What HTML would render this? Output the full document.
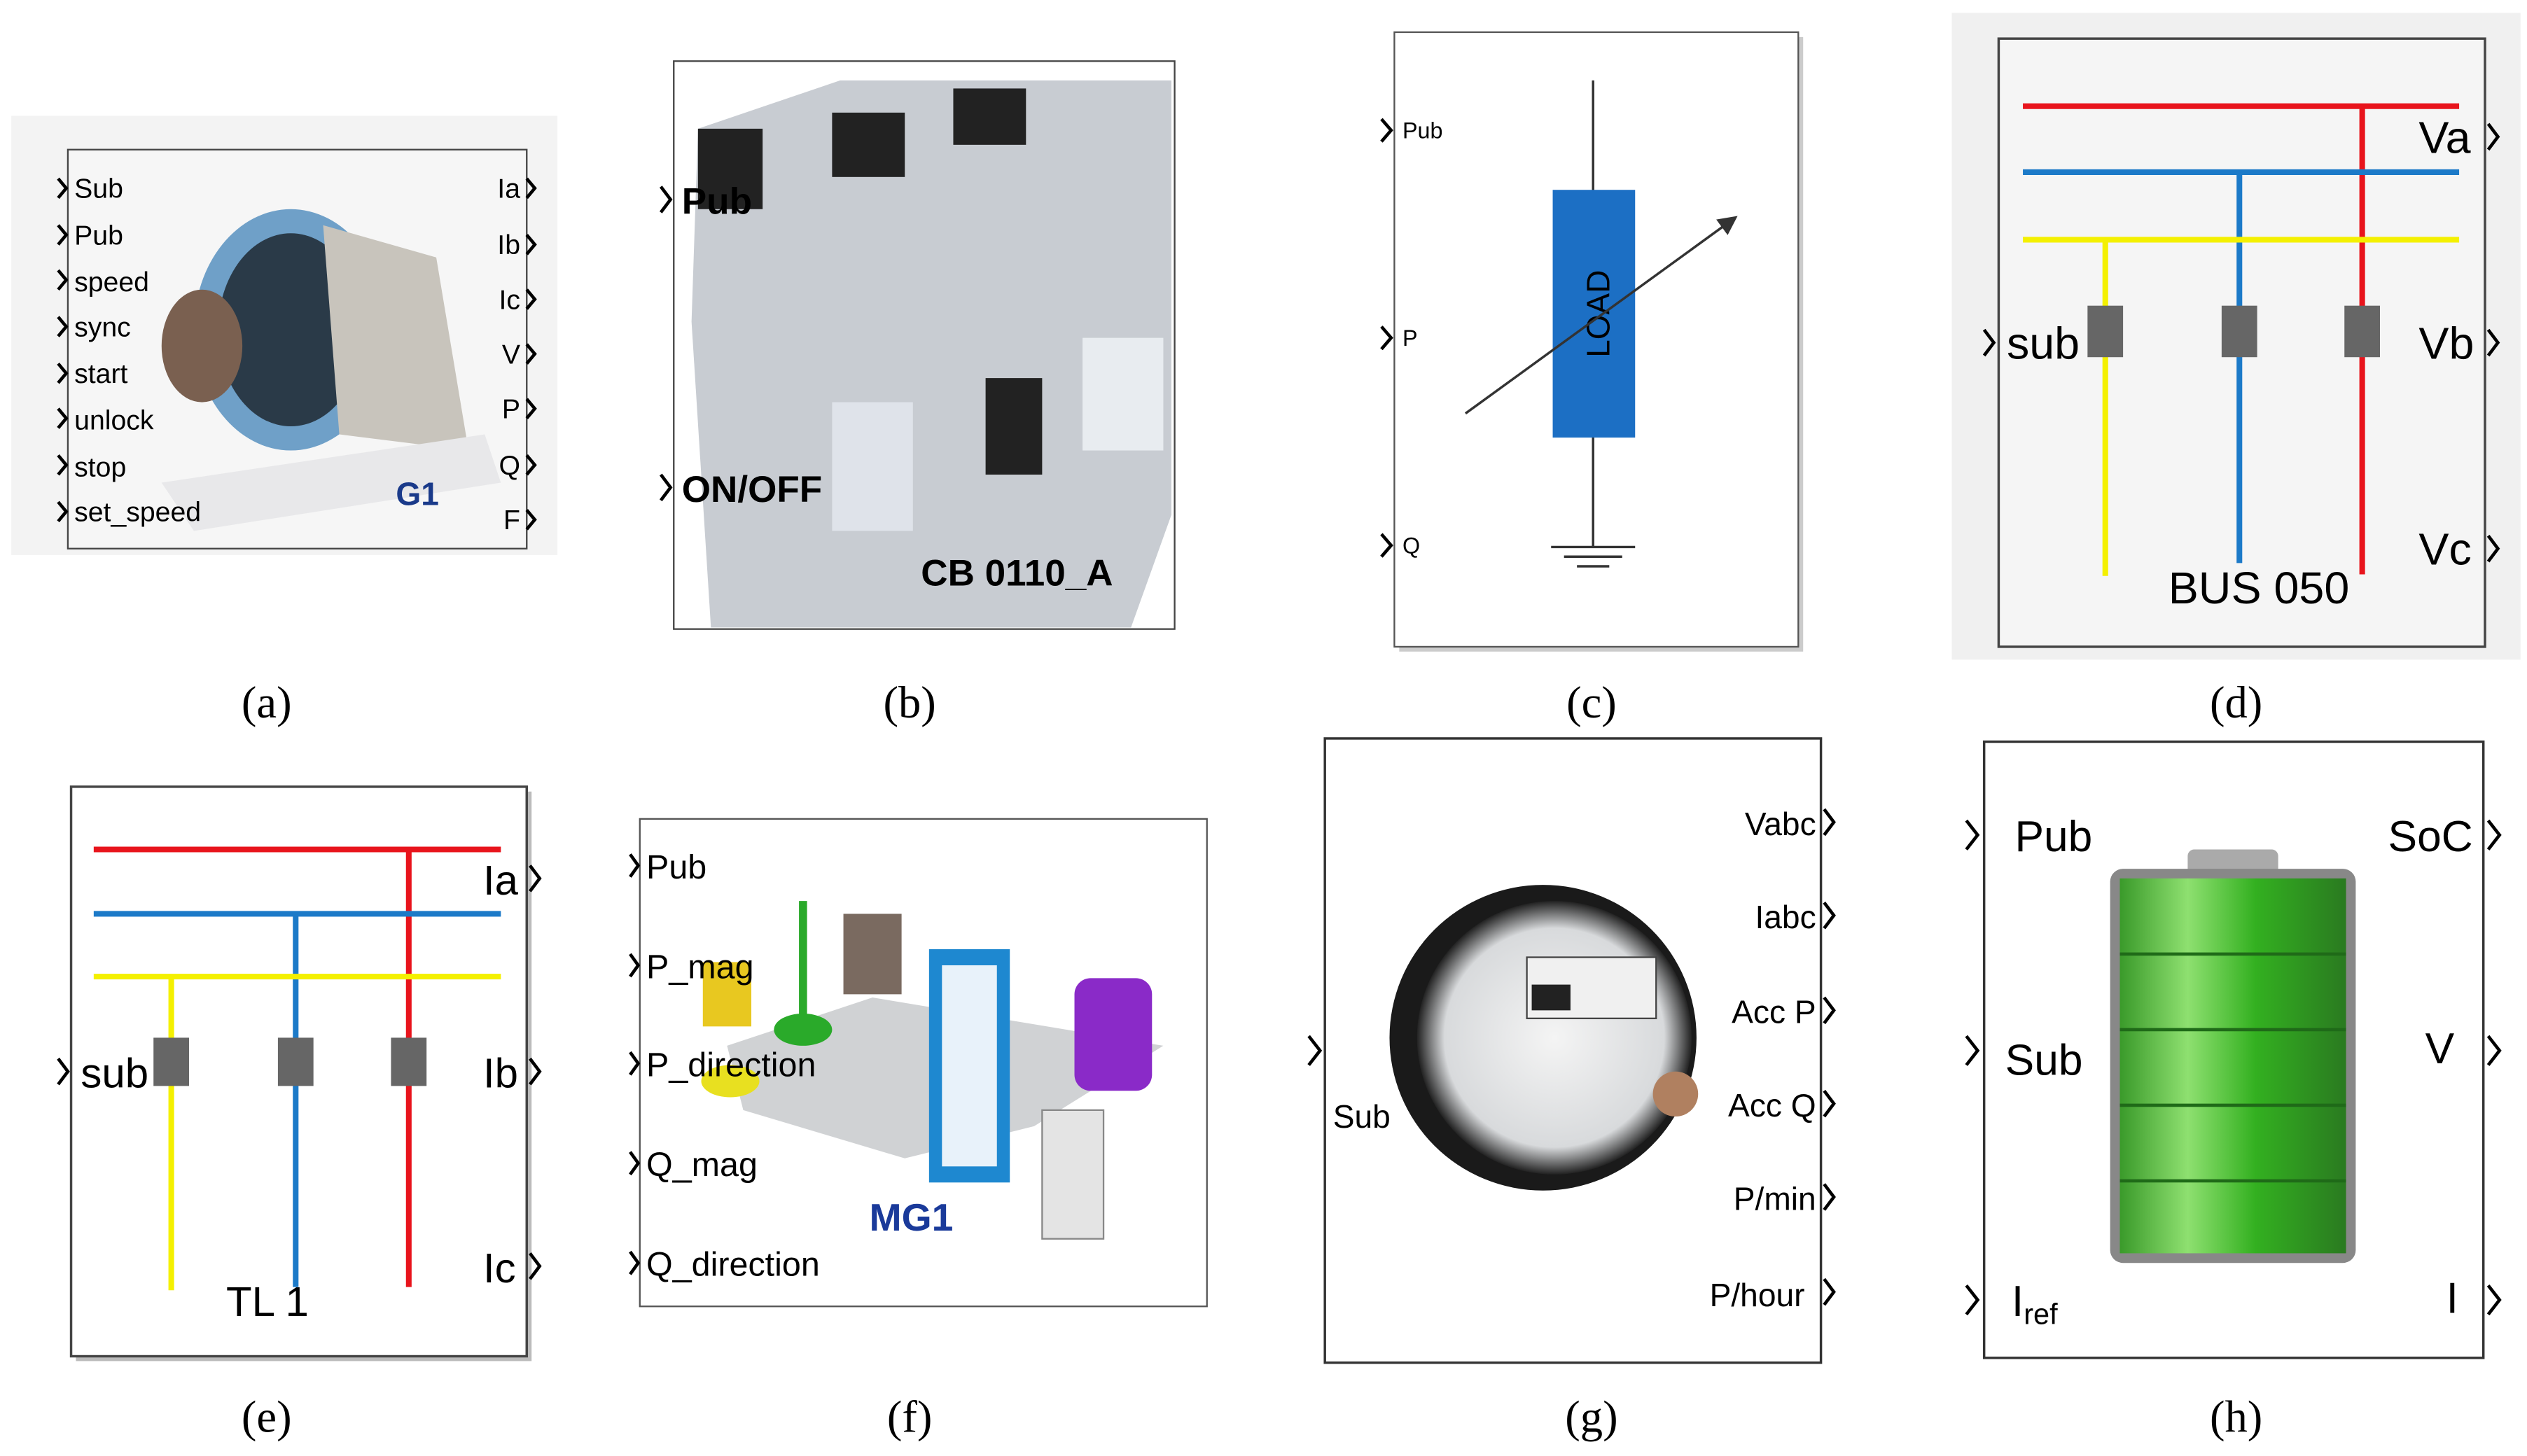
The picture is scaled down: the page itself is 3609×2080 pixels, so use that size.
<!DOCTYPE html>
<html><head><meta charset="utf-8"><style>
html,body{margin:0;padding:0;background:#fff;}
svg{display:block;}
text{font-family:"Liberation Sans",sans-serif;}
.cap{font-family:"Liberation Serif",serif;font-size:28px;text-anchor:middle;}
</style></head><body>
<svg width="3609" height="2080" viewBox="0 0 1564 905" preserveAspectRatio="none" xmlns="http://www.w3.org/2000/svg">
<defs>
<linearGradient id="gb" x1="0" x2="1"><stop offset="0" stop-color="#3a9a2a"/><stop offset="0.3" stop-color="#8ee070"/><stop offset="0.6" stop-color="#33b020"/><stop offset="1" stop-color="#2a7a20"/></linearGradient>
<radialGradient id="gm"><stop offset="0" stop-color="#f4f4f4"/><stop offset="0.8" stop-color="#d8dadc"/><stop offset="1" stop-color="#222"/></radialGradient>
<marker id="ah" markerWidth="8" markerHeight="8" refX="6" refY="4" orient="auto"><path d="M0,0 L8,4 L0,8 z" fill="#333"/></marker>
</defs>
<g fill="none" stroke="#000" stroke-width="2">
</g>
<!-- (a) -->
<rect x="7" y="72" width="338" height="273" fill="#f3f3f3"/>
<rect x="42" y="93" width="284" height="248" fill="#f6f6f6" stroke="#444" stroke-width="1"/>
<ellipse cx="180" cy="205" rx="60" ry="75" fill="#6fa0c8"/>
<ellipse cx="180" cy="205" rx="45" ry="60" fill="#2a3a48"/>
<path d="M200 140 L270 160 L290 280 L210 270 z" fill="#c8c4bc"/>
<ellipse cx="125" cy="215" rx="25" ry="35" fill="#7a6050"/>
<path d="M100 300 L300 270 L310 300 L120 330 z" fill="#e8e8ea"/>
<g font-size="17" fill="#000">
<text x="46" y="123">Sub</text><text x="46" y="152">Pub</text><text x="46" y="181">speed</text><text x="46" y="209">sync</text><text x="46" y="238">start</text><text x="46" y="267">unlock</text><text x="46" y="296">stop</text><text x="46" y="324">set_speed</text>
<g text-anchor="end"><text x="322" y="123">Ia</text><text x="322" y="158">Ib</text><text x="322" y="192">Ic</text><text x="322" y="226">V</text><text x="322" y="260">P</text><text x="322" y="295">Q</text><text x="322" y="329">F</text></g>
</g>
<text x="245" y="314" font-size="20" font-weight="bold" fill="#1a3a8a">G1</text>
<!-- (b) -->
<rect x="417" y="38" width="310" height="353" fill="#fff" stroke="#444" stroke-width="1"/>
<path d="M432 80 L520 50 L725 50 L725 320 L700 390 L440 390 L428 200 z" fill="#c8ccd2"/>
<rect x="432" y="80" width="40" height="50" fill="#222"/><rect x="515" y="70" width="45" height="40" fill="#222"/><rect x="590" y="55" width="45" height="35" fill="#222"/>
<rect x="610" y="235" width="35" height="60" fill="#222"/><rect x="515" y="250" width="50" height="80" fill="#dfe3ea"/><rect x="670" y="210" width="50" height="70" fill="#e8ecf0"/>
<g font-weight="bold" fill="#000" font-size="23"><text x="422" y="133">Pub</text><text x="422" y="312">ON/OFF</text><text x="570" y="364">CB 0110_A</text></g>
<!-- (c) -->
<rect x="866" y="23" width="250" height="382" fill="#ccc"/>
<rect x="863" y="20" width="250" height="382" fill="#fff" stroke="#555" stroke-width="1"/>
<line x1="986" y1="50" x2="986" y2="340" stroke="#333" stroke-width="1.5"/>
<rect x="961" y="118" width="51" height="154" fill="#1c6fc4"/>
<text transform="translate(996,195) rotate(-90)" font-size="20" text-anchor="middle" fill="#000">LOAD</text>
<line x1="907" y1="257" x2="1073" y2="136" stroke="#333" stroke-width="1.5" marker-end="url(#ah)"/>
<g stroke="#333" stroke-width="1.5"><line x1="960" y1="340" x2="1012" y2="340"/><line x1="968" y1="346" x2="1004" y2="346"/><line x1="976" y1="352" x2="996" y2="352"/></g>
<g font-size="14"><text x="868" y="86">Pub</text><text x="868" y="215">P</text><text x="868" y="344">Q</text></g>
<!-- (d) -->
<rect x="1208" y="8" width="352" height="402" fill="#f0f0f0"/>
<rect x="1237" y="24" width="301" height="378" fill="#f5f5f5" stroke="#444" stroke-width="1.5"/>
<g stroke-width="3.5"><line x1="1252" y1="66" x2="1522" y2="66" stroke="#e8141c"/><line x1="1462" y1="66" x2="1462" y2="357" stroke="#e8141c"/>
<line x1="1252" y1="107" x2="1522" y2="107" stroke="#1c7ac8"/><line x1="1386" y1="107" x2="1386" y2="350" stroke="#1c7ac8"/>
<line x1="1252" y1="149" x2="1522" y2="149" stroke="#f4f000"/><line x1="1303" y1="149" x2="1303" y2="358" stroke="#f4f000"/></g>
<g fill="#666"><rect x="1292" y="190" width="22" height="32"/><rect x="1375" y="190" width="22" height="32"/><rect x="1451" y="190" width="22" height="32"/></g>
<g font-size="28"><text x="1242" y="223">sub</text><text x="1497" y="95">Va</text><text x="1497" y="223">Vb</text><text x="1497" y="351">Vc</text><text x="1342" y="375">BUS 050</text></g>
<!-- (e) -->
<rect x="47" y="492" width="282" height="354" fill="#bbb"/>
<rect x="44" y="489" width="282" height="354" fill="#fff" stroke="#444" stroke-width="1.5"/>
<g stroke-width="3.5"><line x1="58" y1="528" x2="310" y2="528" stroke="#e8141c"/><line x1="253" y1="528" x2="253" y2="800" stroke="#e8141c"/>
<line x1="58" y1="568" x2="310" y2="568" stroke="#1c7ac8"/><line x1="183" y1="568" x2="183" y2="800" stroke="#1c7ac8"/>
<line x1="58" y1="607" x2="310" y2="607" stroke="#f4f000"/><line x1="106" y1="607" x2="106" y2="802" stroke="#f4f000"/></g>
<g fill="#666"><rect x="95" y="645" width="22" height="30"/><rect x="172" y="645" width="22" height="30"/><rect x="242" y="645" width="22" height="30"/></g>
<g font-size="26"><text x="50" y="676">sub</text><text x="299" y="556">Ia</text><text x="299" y="676">Ib</text><text x="299" y="797">Ic</text><text x="140" y="818">TL 1</text></g>
<!-- (f) -->
<rect x="396" y="509" width="351" height="303" fill="#fff" stroke="#555" stroke-width="1"/>
<path d="M450 650 L540 620 L720 650 L640 700 L560 720 L460 690 z" fill="#d0d2d4"/>
<rect x="575" y="590" width="50" height="145" fill="#1e88d0"/><rect x="583" y="600" width="34" height="125" fill="#e8f2fa"/>
<rect x="665" y="608" width="48" height="70" rx="10" fill="#8a2ac8"/>
<rect x="645" y="690" width="38" height="80" fill="#e4e4e4" stroke="#888"/>
<rect x="522" y="568" width="36" height="50" fill="#7a6a60"/>
<rect x="435" y="598" width="30" height="40" fill="#e8c820"/><ellipse cx="452" cy="672" rx="18" ry="10" fill="#e8e020"/>
<line x1="497" y1="560" x2="497" y2="640" stroke="#2aaa2a" stroke-width="5"/><ellipse cx="497" cy="640" rx="18" ry="10" fill="#2aaa2a"/>
<g font-size="21" fill="#000"><text x="400" y="546">Pub</text><text x="400" y="608">P_mag</text><text x="400" y="669">P_direction</text><text x="400" y="731">Q_mag</text><text x="400" y="793">Q_direction</text></g>
<text x="538" y="765" font-size="24" font-weight="bold" fill="#1a3a9a">MG1</text>
<!-- (g) -->
<rect x="820" y="459" width="307" height="388" fill="#fff" stroke="#333" stroke-width="1.5"/>
<circle cx="955" cy="645" r="95" fill="#1a1a1a"/>
<circle cx="962" cy="645" r="85" fill="url(#gm)"/>
<rect x="945" y="595" width="80" height="38" fill="#f0f0f0" stroke="#444"/><rect x="948" y="612" width="24" height="16" fill="#222"/>
<circle cx="1037" cy="680" r="14" fill="#b08060"/>
<g font-size="20" text-anchor="end"><text x="1124" y="519">Vabc</text><text x="1124" y="577">Iabc</text><text x="1124" y="636">Acc P</text><text x="1124" y="694">Acc Q</text><text x="1124" y="752">P/min</text><text x="1117" y="812">P/hour</text></g>
<text x="825" y="701" font-size="20">Sub</text>
<!-- (h) -->
<rect x="1228" y="461" width="309" height="383" fill="#fff" stroke="#333" stroke-width="1.5"/>
<rect x="1354" y="528" width="56" height="16" rx="4" fill="#aaa"/>
<rect x="1306" y="540" width="152" height="245" rx="8" fill="#888"/>
<rect x="1312" y="546" width="140" height="233" fill="url(#gb)"/>
<g stroke="#1f6a18" stroke-width="2"><line x1="1312" y1="593" x2="1452" y2="593"/><line x1="1312" y1="640" x2="1452" y2="640"/><line x1="1312" y1="687" x2="1452" y2="687"/><line x1="1312" y1="734" x2="1452" y2="734"/></g>
<g font-size="27"><text x="1247" y="529">Pub</text><text x="1478" y="529">SoC</text><text x="1241" y="668">Sub</text><text x="1501" y="661">V</text><text x="1245" y="818">I<tspan font-size="18" dy="5">ref</tspan></text><text x="1514" y="816">I</text></g>
<!-- port chevrons -->
<g fill="none" stroke="#000" stroke-width="2">
<path d="M36 111l5 6-5 6M36 140l5 6-5 6M36 168l5 6-5 6M36 197l5 6-5 6M36 226l5 6-5 6M36 254l5 6-5 6M36 283l5 6-5 6M36 312l5 6-5 6"/>
<path d="M326 111l5 6-5 6M326 146l5 6-5 6M326 180l5 6-5 6M326 214l5 6-5 6M326 248l5 6-5 6M326 283l5 6-5 6M326 317l5 6-5 6"/>
<path d="M409 116l6 8-6 8M409 295l6 8-6 8"/>
<path d="M855 74l6 7-6 7M855 203l6 7-6 7M855 332l6 7-6 7"/>
<path d="M1228 205l6 8-6 8M1540 77l6 8-6 8M1540 205l6 8-6 8M1540 333l6 8-6 8"/>
<path d="M36 658l6 8-6 8M328 538l6 8-6 8M328 658l6 8-6 8M328 779l6 8-6 8"/>
<path d="M390 531l5 7-5 7M390 593l5 7-5 7M390 654l5 7-5 7M390 716l5 7-5 7M390 778l5 7-5 7"/>
<path d="M810 644l7 9-7 9M1129 503l6 8-6 8M1129 561l6 8-6 8M1129 620l6 8-6 8M1129 678l6 8-6 8M1129 736l6 8-6 8M1129 795l6 8-6 8"/>
<path d="M1217 510l7 9-7 9M1540 510l7 9-7 9M1217 644l7 9-7 9M1540 644l7 9-7 9M1217 799l7 9-7 9M1540 799l7 9-7 9"/>
</g>
<!-- captions -->
<text class="cap" x="165" y="446">(a)</text><text class="cap" x="563" y="446">(b)</text><text class="cap" x="985" y="446">(c)</text><text class="cap" x="1384" y="446">(d)</text>
<text class="cap" x="165" y="890">(e)</text><text class="cap" x="563" y="890">(f)</text><text class="cap" x="985" y="890">(g)</text><text class="cap" x="1384" y="890">(h)</text>
</svg>
</body></html>
